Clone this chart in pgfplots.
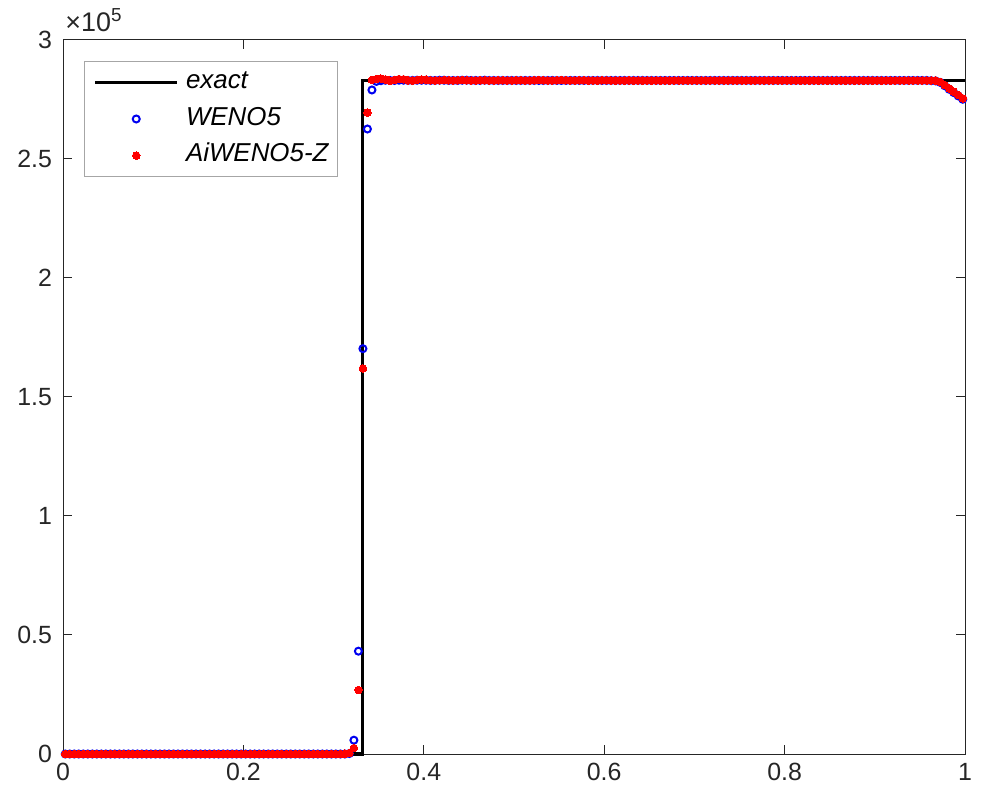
\documentclass[border=0pt]{standalone}
\usepackage{fontspec}
\setmainfont{Liberation Sans}
\usepackage{pgfplots}
\usepackage{pgfplotstable}
\pgfplotsset{compat=1.18}
\definecolor{axgray}{RGB}{38,38,38}
\definecolor{mblue}{RGB}{0,0,240}
\definecolor{mred}{RGB}{255,0,0}
% x, WENO5, AiWENO5-Z  (y in units of 1e5)
\pgfplotstableread{
x w a
0.0025 0 0
0.0075 0 0
0.0125 0 0
0.0175 0 0
0.0225 0 0
0.0275 0 0
0.0325 0 0
0.0375 0 0
0.0425 0 0
0.0475 0 0
0.0525 0 0
0.0575 0 0
0.0625 0 0
0.0675 0 0
0.0725 0 0
0.0775 0 0
0.0825 0 0
0.0875 0 0
0.0925 0 0
0.0975 0 0
0.1025 0 0
0.1075 0 0
0.1125 0 0
0.1175 0 0
0.1225 0 0
0.1275 0 0
0.1325 0 0
0.1375 0 0
0.1425 0 0
0.1475 0 0
0.1525 0 0
0.1575 0 0
0.1625 0 0
0.1675 0 0
0.1725 0 0
0.1775 0 0
0.1825 0 0
0.1875 0 0
0.1925 0 0
0.1975 0 0
0.2025 0 0
0.2075 0 0
0.2125 0 0
0.2175 0 0
0.2225 0 0
0.2275 0 0
0.2325 0 0
0.2375 0 0
0.2425 0 0
0.2475 0 0
0.2525 0 0
0.2575 0 0
0.2625 0 0
0.2675 0 0
0.2725 0 0
0.2775 0 0
0.2825 0 0
0.2875 0 0
0.2925 0 0
0.2975 0 0
0.3025 0 0
0.3075 0 0
0.3125 0 0.001
0.3175 0.002 0.004
0.3225 0.058 0.025
0.3275 0.432 0.269
0.3325 1.703 1.620
0.3375 2.626 2.695
0.3425 2.790 2.832
0.3475 2.826 2.836
0.3525 2.829 2.838
0.3575 2.831 2.834
0.3625 2.830 2.829
0.3675 2.830 2.832
0.3725 2.831 2.836
0.3775 2.831 2.835
0.3825 2.830 2.831
0.3875 2.830 2.829
0.3925 2.831 2.832
0.3975 2.831 2.834
0.4025 2.831 2.833
0.4075 2.830 2.831
0.4125 2.830 2.830
0.4175 2.831 2.831
0.4225 2.831 2.832
0.4275 2.830 2.831
0.4325 2.830 2.830
0.4375 2.830 2.831
0.4425 2.831 2.832
0.4475 2.831 2.831
0.4525 2.830 2.830
0.4575 2.830 2.830
0.4625 2.830 2.831
0.4675 2.831 2.831
0.4725 2.830 2.830
0.4775 2.830 2.830
0.4825 2.830 2.831
0.4875 2.830 2.831
0.4925 2.830 2.830
0.4975 2.830 2.830
0.5025 2.830 2.831
0.5075 2.830 2.831
0.5125 2.830 2.830
0.5175 2.830 2.830
0.5225 2.830 2.831
0.5275 2.830 2.832
0.5325 2.830 2.831
0.5375 2.830 2.830
0.5425 2.830 2.830
0.5475 2.830 2.831
0.5525 2.830 2.832
0.5575 2.830 2.831
0.5625 2.830 2.830
0.5675 2.830 2.830
0.5725 2.830 2.831
0.5775 2.830 2.831
0.5825 2.830 2.830
0.5875 2.830 2.830
0.5925 2.830 2.830
0.5975 2.830 2.831
0.6025 2.830 2.831
0.6075 2.830 2.830
0.6125 2.830 2.830
0.6175 2.830 2.830
0.6225 2.830 2.830
0.6275 2.830 2.831
0.6325 2.830 2.830
0.6375 2.830 2.830
0.6425 2.830 2.830
0.6475 2.830 2.830
0.6525 2.830 2.830
0.6575 2.830 2.830
0.6625 2.830 2.830
0.6675 2.830 2.830
0.6725 2.830 2.830
0.6775 2.830 2.830
0.6825 2.830 2.830
0.6875 2.830 2.830
0.6925 2.830 2.830
0.6975 2.830 2.830
0.7025 2.830 2.830
0.7075 2.830 2.830
0.7125 2.830 2.830
0.7175 2.830 2.830
0.7225 2.830 2.830
0.7275 2.830 2.830
0.7325 2.830 2.830
0.7375 2.830 2.830
0.7425 2.830 2.830
0.7475 2.830 2.830
0.7525 2.830 2.830
0.7575 2.830 2.830
0.7625 2.830 2.830
0.7675 2.830 2.830
0.7725 2.830 2.830
0.7775 2.830 2.830
0.7825 2.830 2.830
0.7875 2.830 2.830
0.7925 2.830 2.830
0.7975 2.830 2.830
0.8025 2.830 2.830
0.8075 2.830 2.830
0.8125 2.830 2.830
0.8175 2.830 2.830
0.8225 2.830 2.830
0.8275 2.830 2.830
0.8325 2.830 2.830
0.8375 2.830 2.830
0.8425 2.830 2.830
0.8475 2.830 2.830
0.8525 2.830 2.830
0.8575 2.830 2.830
0.8625 2.830 2.830
0.8675 2.830 2.830
0.8725 2.830 2.830
0.8775 2.830 2.830
0.8825 2.830 2.830
0.8875 2.830 2.830
0.8925 2.830 2.830
0.8975 2.830 2.830
0.9025 2.830 2.830
0.9075 2.830 2.830
0.9125 2.830 2.830
0.9175 2.830 2.830
0.9225 2.830 2.830
0.9275 2.830 2.830
0.9325 2.830 2.830
0.9375 2.830 2.830
0.9425 2.830 2.830
0.9475 2.830 2.830
0.9525 2.830 2.830
0.9575 2.830 2.830
0.9625 2.829 2.830
0.9675 2.828 2.829
0.9725 2.822 2.824
0.9775 2.808 2.811
0.9825 2.793 2.797
0.9875 2.779 2.783
0.9925 2.765 2.769
0.9975 2.751 2.755
}\datatable
\begin{document}
\begin{tikzpicture}
\useasboundingbox (-31.5bp,-23bp) rectangle (461bp,377bp);
\begin{axis}[
  at={(0,0)}, anchor=south west,
  scale only axis,
  width=451bp, height=357bp,
  xmin=0, xmax=1, ymin=0, ymax=3,
  xtick={0,0.2,0.4,0.6,0.8,1},
  ytick={0,0.5,1,1.5,2,2.5,3},
  tick align=inside,
  major tick length=4.5bp,
  axis line style={axgray, line width=0.5bp},
  every tick/.style={axgray, line width=0.5bp},
  tick label style={font=\fontsize{12.5}{14}\selectfont, text=axgray},
  /pgf/number format/assume math mode=true,
  xticklabel style={yshift=-1bp},
  yticklabel style={xshift=-2bp},
  clip=false,
  legend style={at={(0,1)}, anchor=north west, xshift=10.5bp, yshift=-10.5bp,
    draw=black!35, fill=white, line width=0.5bp,
    font=\itshape\fontsize{13}{15}\selectfont,
    inner xsep=4.5bp, inner ysep=4.2bp, row sep=5.8bp, column sep=3.5bp,
    nodes={inner sep=0pt, text height=9.3bp, text depth=3.2bp}},
  legend cell align=left,
  legend image code/.code={\draw[mark repeat=2,mark phase=2,#1] plot coordinates {(0bp,0bp) (20.5bp,0bp) (41bp,0bp)};},
]
\addplot[black, line width=1.75bp] coordinates {(0,0) (0.332,0) (0.332,2.83) (1,2.83)};
\addlegendentry{exact}
\addplot[only marks, mark=o, mblue, mark size=1.75bp, line width=1bp] table[x=x, y=w] {\datatable};
\addlegendentry{WENO5}
\addplot[only marks, mark=*, mred, mark size=1.9bp, line width=0pt] table[x=x, y=a] {\datatable};
\addlegendentry{AiWENO5-Z}
\node[anchor=base west, inner sep=0pt, font=\fontsize{13.5}{15}\selectfont, text=axgray] at (rel axis cs:0,1) [yshift=4bp, xshift=1bp] {×10\textsuperscript{5}};
\end{axis}
\end{tikzpicture}
\end{document}
